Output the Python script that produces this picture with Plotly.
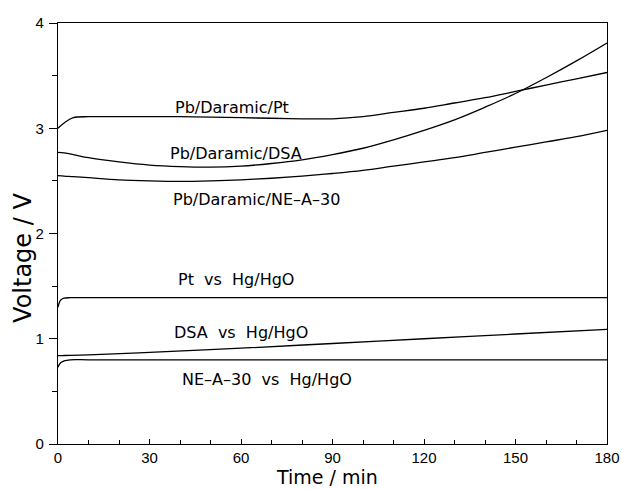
import plotly.graph_objects as go

# Time axis (min)
t_cell = [0, 2, 5, 10, 20, 30, 40, 50, 60, 70, 80, 90, 100, 110, 120, 130, 140, 150, 160, 170, 180]
v_pb_pt = [3.0, 3.05, 3.1, 3.11, 3.11, 3.11, 3.11, 3.105, 3.1, 3.095, 3.09, 3.09, 3.11, 3.15, 3.19, 3.24, 3.29, 3.35, 3.41, 3.47, 3.53]
v_pb_dsa = [2.77, 2.765, 2.75, 2.72, 2.68, 2.65, 2.635, 2.63, 2.64, 2.665, 2.70, 2.75, 2.81, 2.89, 2.98, 3.08, 3.20, 3.33, 3.48, 3.64, 3.81]
v_pb_ne = [2.55, 2.545, 2.54, 2.53, 2.51, 2.50, 2.495, 2.50, 2.51, 2.525, 2.545, 2.57, 2.60, 2.64, 2.68, 2.72, 2.77, 2.82, 2.87, 2.92, 2.98]

t_ref = [0, 0.5, 1, 2, 4, 10, 30, 60, 90, 120, 150, 180]
v_pt_hg = [1.30, 1.35, 1.37, 1.385, 1.39, 1.39, 1.39, 1.39, 1.39, 1.39, 1.39, 1.39]
v_dsa_hg = [0.84, 0.84, 0.84, 0.841, 0.842, 0.847, 0.87, 0.91, 0.955, 1.0, 1.045, 1.09]
v_ne_hg = [0.73, 0.76, 0.775, 0.79, 0.80, 0.80, 0.80, 0.80, 0.80, 0.80, 0.80, 0.80]

label_text = ["Pb/Daramic/Pt", "Pb/Daramic/DSA", "Pb/Daramic/NE\u2013A\u201330",
              "Pt  vs  Hg/HgO", "DSA  vs  Hg/HgO", "NE\u2013A\u201330  vs  Hg/HgO"]
label_x = [57, 58.5, 65, 58.5, 60, 68.5]
label_y = [3.2, 2.76, 2.32, 1.56, 1.06, 0.61]

x_ticks = [0, 30, 60, 90, 120, 150, 180]
y_ticks = [0, 1, 2, 3, 4]
x_title = "Time / min"
y_title = "Voltage / V"

fig = go.Figure()
line = dict(color="black", width=1.3)
for y in (v_pb_pt, v_pb_dsa, v_pb_ne):
    fig.add_trace(go.Scatter(x=t_cell, y=y, mode="lines", line=dict(line, shape="spline"), showlegend=False))
for y in (v_pt_hg, v_dsa_hg, v_ne_hg):
    fig.add_trace(go.Scatter(x=t_ref, y=y, mode="lines", line=dict(line, shape="spline"), showlegend=False))

for txt, x, y in zip(label_text, label_x, label_y):
    fig.add_annotation(x=x, y=y, text=txt, showarrow=False,
                       font=dict(family="DejaVu Sans", size=16, color="black"))

# axis titles as paper annotations
fig.add_annotation(xref="paper", yref="paper", x=0.49, y=0, yshift=-33, yanchor="middle",
                   text=x_title, showarrow=False,
                   font=dict(family="DejaVu Sans", size=19, color="black"))
fig.add_annotation(xref="paper", yref="paper", x=0, xshift=-35, y=0.442, xanchor="center",
                   yanchor="middle", text=y_title, textangle=-90, showarrow=False,
                   font=dict(family="DejaVu Sans", size=24, color="black"))

axis_common = dict(showline=True, linecolor="black", linewidth=1.3, mirror=True,
                   showgrid=False, zeroline=False, automargin=False,
                   tickfont=dict(family="Liberation Sans", size=15, color="black"))

fig.update_layout(
    width=622, height=489,
    margin=dict(l=58, r=15, t=23, b=45),
    paper_bgcolor="white", plot_bgcolor="white",
    xaxis=dict(axis_common, range=[0, 180], tickvals=x_ticks, ticks="inside", ticklen=5,
               tickcolor="black", ticklabeloverflow="allow",
               minor=dict(dtick=10, ticks="inside", ticklen=4, tickcolor="black")),
    yaxis=dict(axis_common, range=[0, 4], tickvals=y_ticks, ticks="outside", ticklen=8,
               tickcolor="black", ticklabelstandoff=2,
               minor=dict(dtick=0.5, ticks="outside", ticklen=5, tickcolor="black")),
)

# remove the default page margin so the 622x489 figure fills the window exactly
fig.write_html("out.html", config={"displayModeBar": False},
               post_script="document.body.style.margin='0';document.body.style.overflow='hidden';")
